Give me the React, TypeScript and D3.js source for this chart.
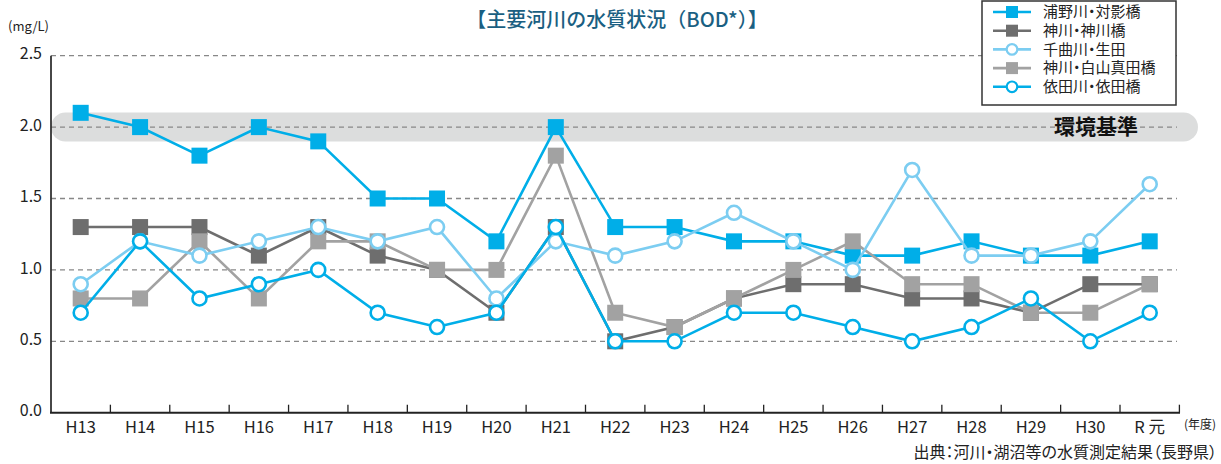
import React from 'react';
import { scaleBand, scaleLinear, line } from 'd3';

const years = ['H13','H14','H15','H16','H17','H18','H19','H20','H21','H22','H23','H24','H25','H26','H27','H28','H29','H30','R 元'];
const yTicks = [0, 0.5, 1.0, 1.5, 2.0, 2.5];
const standard = 2.0;

const uranogawa = [2.1,2.0,1.8,2.0,1.9,1.5,1.5,1.2,2.0,1.3,1.3,1.2,1.2,1.1,1.1,1.2,1.1,1.1,1.2];
const kangawa = [1.3,1.3,1.3,1.1,1.3,1.1,1.0,0.7,1.3,0.5,0.6,0.8,0.9,0.9,0.8,0.8,0.7,0.9,0.9];
const chikuma = [0.9,1.2,1.1,1.2,1.3,1.2,1.3,0.8,1.2,1.1,1.2,1.4,1.2,1.0,1.7,1.1,1.1,1.2,1.6];
const sanada = [0.8,0.8,1.2,0.8,1.2,1.2,1.0,1.0,1.8,0.7,0.6,0.8,1.0,1.2,0.9,0.9,0.7,0.7,0.9];
const yoda = [0.7,1.2,0.8,0.9,1.0,0.7,0.6,0.7,1.3,0.5,0.5,0.7,0.7,0.6,0.5,0.6,0.8,0.5,0.7];

const series = [
  { name: '浦野川・対影橋', values: uranogawa, color: '#00aee8', shape: 'square' },
  { name: '神川・神川橋', values: kangawa, color: '#6e6e6e', shape: 'square' },
  { name: '千曲川・生田', values: chikuma, color: '#7ccdf1', shape: 'circle' },
  { name: '神川・白山真田橋', values: sanada, color: '#a2a2a2', shape: 'square' },
  { name: '依田川・依田橋', values: yoda, color: '#00aee8', shape: 'circle' },
];
// draw order: which lines sit on top
const drawOrder = [0, 1, 3, 2, 4];

const W = 1221;
const H = 464;
const font = '"Noto Sans CJK JP", "Noto Sans", sans-serif';
const palt = { fontFeatureSettings: '"palt"' };

function Marker({ shape, color, x, y }: { shape: string; color: string; x: number; y: number }) {
  if (shape === 'square') {
    return <rect x={x - 8} y={y - 8} width={16} height={16} fill={color} />;
  }
  return <circle cx={x} cy={y} r={7} fill="#fff" stroke={color} strokeWidth={2.6} />;
}

export default function App() {
  const x = scaleBand<string>().domain(years).range([51, 1179.4]).padding(0);
  const y = scaleLinear().domain([0, 2.5]).range([412.7, 55.7]);
  const cx = (i: number) => (x(years[i]) as number) + x.bandwidth() / 2;

  const path = line<number>()
    .x((d, i) => cx(i))
    .y((d) => y(d));

  const legendX = 982;
  const legendY = 1;

  return (
    <svg width={W} height={H} style={{ position: 'absolute', left: 0, top: 0, fontFamily: font }}>
      <rect width={W} height={H} fill="#fff" />

      {/* title */}
      <text x={617} y={27} textAnchor="middle" fontSize={20} fill="#1a5f82" fontWeight={500}>
        【主要河川の水質状況（BOD*）】
      </text>

      {/* environmental standard band */}
      <rect x={51} y={y(standard) - 14.5} width={1198 - 51} height={29} rx={14.5} fill="#dcdddd" />

      {/* grid lines */}
      {yTicks.filter((t) => t > 0).map((t) => (
        <line key={t} x1={51} x2={1177} y1={y(t)} y2={y(t)} stroke="#888" strokeWidth={1.3} strokeDasharray="5 4" />
      ))}

      <text x={1138} y={y(standard)} dy="0.35em" textAnchor="end" fontSize={21} fontWeight={700} fill="#111">
        環境基準
      </text>

      {/* y axis labels */}
      <text x={8} y={31} fontSize={13} fill="#222">(mg/L)</text>
      {yTicks.map((t) => (
        <text key={t} x={42} y={y(t) - 2} dy="0.35em" textAnchor="end" fontSize={16} fill="#222">
          {t.toFixed(1)}
        </text>
      ))}

      {/* axes */}
      <line x1={51} x2={51} y1={y(2.5)} y2={y(0)} stroke="#333" strokeWidth={1.8} />
      <line x1={50} x2={1180} y1={y(0)} y2={y(0)} stroke="#222" strokeWidth={2} />
      {years.map((yr) => (
        <line key={yr} x1={(x(yr) as number) + x.bandwidth()} x2={(x(yr) as number) + x.bandwidth()} y1={y(0)} y2={y(0) - 8} stroke="#222" strokeWidth={1.3} />
      ))}
      {years.map((yr, i) => (
        <text key={yr} x={cx(i)} y={427} dy="0.35em" textAnchor="middle" fontSize={16.5} fill="#222">
          {yr}
        </text>
      ))}
      <text x={1216} y={425} dy="0.35em" textAnchor="end" fontSize={12} fill="#222" style={palt}>(年度)</text>
      <text x={1217} y={452} dy="0.35em" textAnchor="end" fontSize={16} fill="#222" style={palt}>
        出典：河川・湖沼等の水質測定結果（長野県）
      </text>

      {/* lines */}
      {drawOrder.map((k) => {
        const s = series[k];
        return (
          <g key={s.name}>
            <path d={path(s.values) as string} fill="none" stroke={s.color} strokeWidth={2.6} />
            {s.values.map((v, i) => (
              <Marker key={i} shape={s.shape} color={s.color} x={cx(i)} y={y(v)} />
            ))}
          </g>
        );
      })}

      {/* legend */}
      <rect x={legendX} y={legendY} width={1176 - legendX} height={105 - legendY} fill="#fff" stroke="#333" strokeWidth={1.5} />
      {series.map((s, i) => {
        const ly = 12 + i * 18.7;
        return (
          <g key={s.name}>
            <line x1={993} x2={1031} y1={ly} y2={ly} stroke={s.color} strokeWidth={2.6} />
            {s.shape === 'square' ? (
              <rect x={1006} y={ly - 6} width={12} height={12} fill={s.color} />
            ) : (
              <circle cx={1012} cy={ly} r={5.3} fill="#fff" stroke={s.color} strokeWidth={2.2} />
            )}
            <text x={1043} y={ly} dy="0.35em" fontSize={15} fill="#222" style={palt}>{s.name}</text>
          </g>
        );
      })}
    </svg>
  );
}
